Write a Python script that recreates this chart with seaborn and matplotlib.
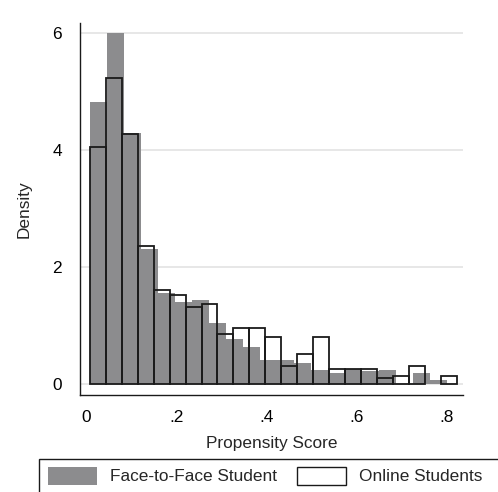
import numpy as np
import pandas as pd
import matplotlib.pyplot as plt
import seaborn as sns
from matplotlib.patches import Patch, Rectangle

# ヒストグラムの値 (密度) を図から読み取ったもの
f2f_start = 0.0085
f2f_width = 0.0377
f2f_density = [4.82, 6.00, 4.30, 2.31, 1.57, 1.40, 1.45, 1.05, 0.77, 0.64, 0.415,
               0.415, 0.37, 0.245, 0.20, 0.26, 0.23, 0.245, 0.0, 0.19, 0.08]

online_start = 0.0085
online_width = 0.0354
online_density = [4.05, 5.23, 4.27, 2.36, 1.62, 1.52, 1.32, 1.37, 0.87, 0.97, 0.97,
                  0.815, 0.31, 0.52, 0.815, 0.26, 0.26, 0.26, 0.11, 0.15, 0.31, 0.0, 0.15]

x_ticks = [0, 0.2, 0.4, 0.6, 0.8]
x_tick_labels = ["0", ".2", ".4", ".6", ".8"]
y_ticks = [0, 2, 4, 6]
labels = ["Face-to-Face Student", "Online Students"]

gray = "#8c8c8e"
dark = "#1a1a1a"
fs = 12.4

sns.set_style("white")
plt.rcParams["font.family"] = ["Liberation Sans", "DejaVu Sans"]
plt.rcParams["font.size"] = fs

fig = plt.figure(figsize=(4.98, 4.92), dpi=100)
ax = fig.add_axes([0.1606, 0.1972, 0.7697, 0.7567])

# ビンの端と中心
f2f_edges = f2f_start + f2f_width * np.arange(len(f2f_density) + 1)
online_edges = online_start + online_width * np.arange(len(online_density) + 1)
f2f = pd.DataFrame({"score": f2f_edges[:-1] + f2f_width / 2, "density": f2f_density})
online = pd.DataFrame({"score": online_edges[:-1] + online_width / 2, "density": online_density})

sns.histplot(data=f2f, x="score", weights="density", bins=f2f_edges.tolist(),
             stat="count", color=gray, alpha=1, linewidth=0, ax=ax, zorder=2)
sns.histplot(data=online, x="score", weights="density", bins=online_edges.tolist(),
             stat="count", fill=False, color=dark, linewidth=1.3, ax=ax, zorder=3)

# 高さ0のビンは描かない
for p in ax.patches:
    if p.get_height() == 0:
        p.set_visible(False)

ax.set_xlim(-0.0133, 0.837)
ax.set_ylim(-0.18, 6.18)
ax.set_xticks(x_ticks)
ax.set_xticklabels(x_tick_labels)
ax.set_yticks(y_ticks)
ax.yaxis.grid(True, color="#e3e3e3", linewidth=1.2)
ax.set_axisbelow(True)

for side in ["top", "right"]:
    ax.spines[side].set_visible(False)
for side in ["left", "bottom"]:
    ax.spines[side].set_color(dark)
    ax.spines[side].set_linewidth(1.0)

ax.tick_params(axis="both", direction="out", width=1, color=dark,
               labelsize=fs, labelcolor="black")
ax.tick_params(axis="y", length=4, pad=9)
ax.tick_params(axis="x", length=5, pad=6)
ax.set_xlabel("Propensity Score", fontsize=fs, labelpad=8)
ax.set_ylabel("Density", fontsize=fs, labelpad=15)

# 凡例
handles = [Patch(facecolor=gray, edgecolor="none"),
           Patch(facecolor="white", edgecolor=dark, linewidth=1.0)]
fig.legend(handles, labels, loc="upper left", bbox_to_anchor=(48 / 498, 1 - 466.5 / 492),
           ncol=2, frameon=False, borderpad=0, borderaxespad=0,
           handlelength=2.85, handleheight=1.25, handletextpad=0.75,
           columnspacing=1.16, fontsize=fs)
fig.patches.append(Rectangle((39 / 498, -0.05), 1.0, 1 - 459 / 492 + 0.05,
                             transform=fig.transFigure, fill=False,
                             edgecolor=dark, linewidth=1.0))

plt.savefig("out.png", dpi=100)
